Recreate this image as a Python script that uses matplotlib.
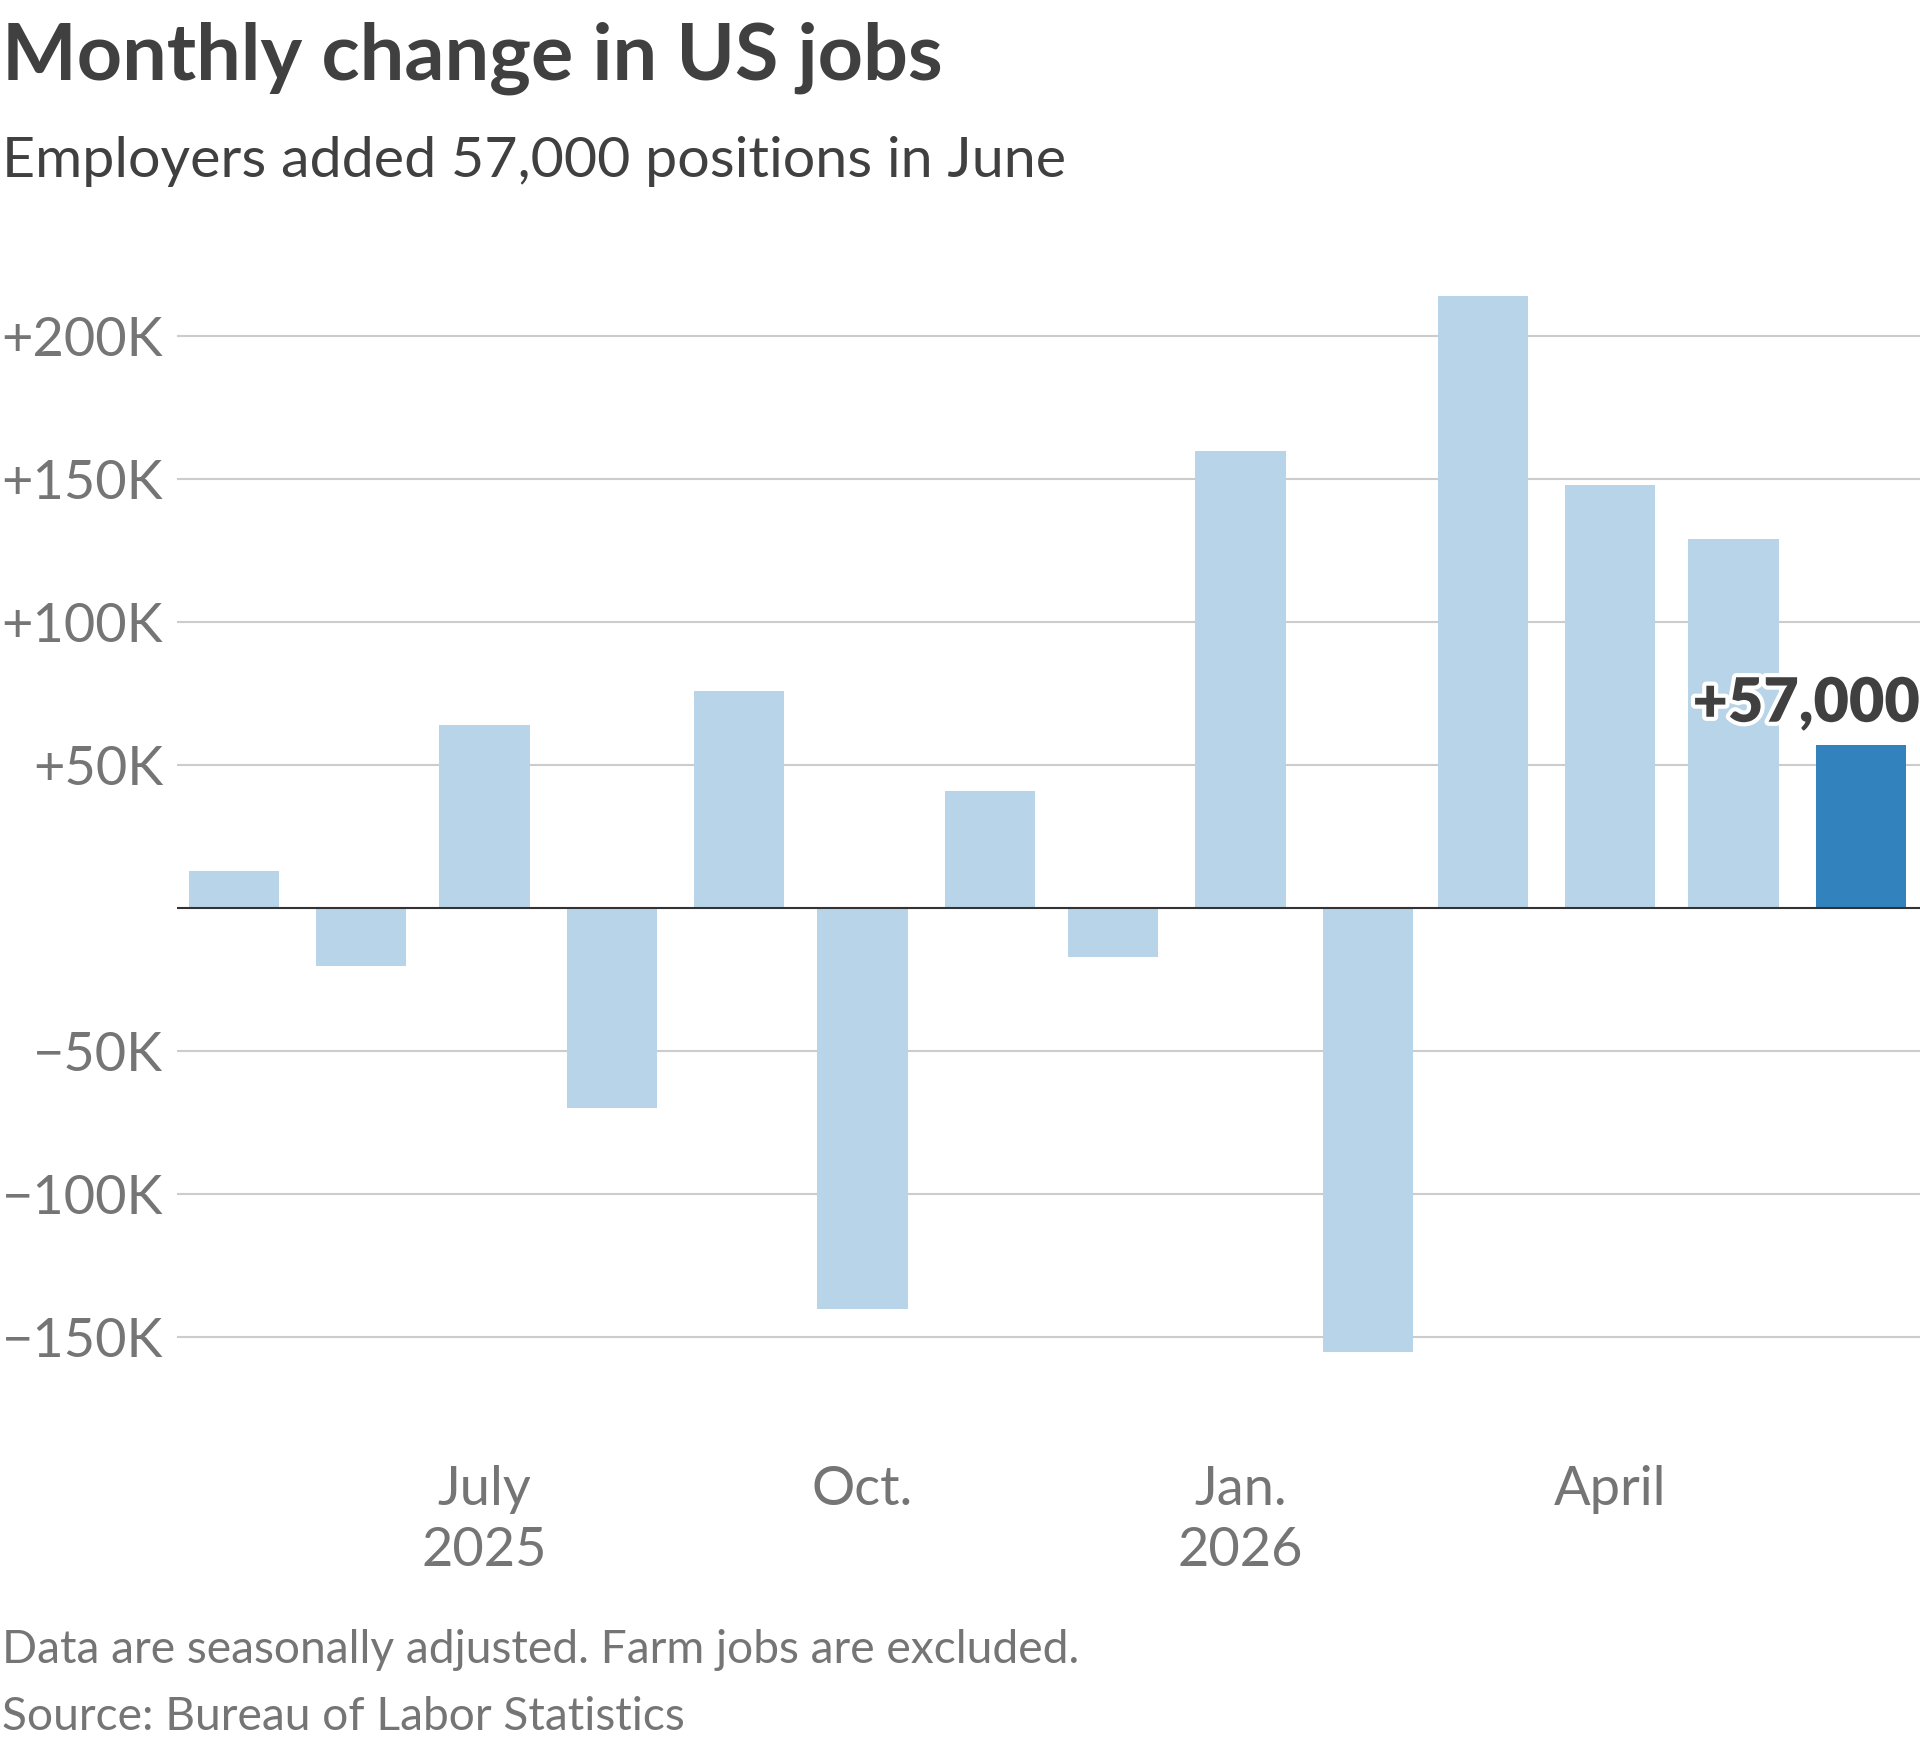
import numpy as np
import pandas as pd
import matplotlib
matplotlib.use("Agg")
import matplotlib.pyplot as plt
import matplotlib.patheffects as pe
import matplotlib.transforms as mtransforms

# data
months = pd.date_range("2025-05-01", "2026-06-01", freq="MS")
changes = [13000, -20000, 64000, -70000, 76000, -140000, 41000, -17000,
           160000, -155000, 214000, 148000, 129000, 57000]
yticks = [-150000, -100000, -50000, 50000, 100000, 150000, 200000]
ytick_labels = ["\u2212150K", "\u2212100K", "\u221250K", "+50K", "+100K", "+150K", "+200K"]
xtick_dates = pd.to_datetime(["2025-07-01", "2025-10-01", "2026-01-01", "2026-04-01"])
xtick_labels = ["July\n2025", "Oct.", "Jan.\n2026", "April"]

light_blue = "#b8d4e8"
dark_blue = "#3282bd"
text_dark = "#404040"
text_grey = "#757575"

plt.rcParams['font.family'] = ['Lato', 'DejaVu Sans']

W, H = 1920, 1747
fig = plt.figure(figsize=(W / 100, H / 100), dpi=100)

# axes placed in pixel coordinates
ax_left, ax_right, ax_top, ax_bottom = 177, 1920, 265, 1423
ax = fig.add_axes([ax_left / W, 1 - ax_bottom / H, (ax_right - ax_left) / W, (ax_bottom - ax_top) / H])

colors = [light_blue] * (len(changes) - 1) + [dark_blue]
ax.bar(months, changes, width=22, color=colors, zorder=3)

ax.set_ylim(-180000, 225000)
start = months[0] - pd.Timedelta(days=13.8)
ax.set_xlim(start, start + pd.Timedelta(days=424.2))

ax.set_yticks(yticks)
ax.set_yticklabels(ytick_labels, fontsize=39, color=text_grey)
ax.set_xticks(xtick_dates)
ax.set_xticklabels(xtick_labels, fontsize=39, color=text_grey, linespacing=1.3)
ax.tick_params(axis="y", length=0, pad=10)
ax.tick_params(axis="x", length=0, pad=30)

for s in ax.spines.values():
    s.set_visible(False)
ax.grid(axis="y", color="#cccccc", linewidth=1.5, zorder=0)
ax.axhline(0, color="#333333", linewidth=1.5, zorder=4)

# label for the latest month
trans = mtransforms.blended_transform_factory(ax.transAxes, ax.transData)
ax.annotate("+57,000", xy=(1.0, changes[-1]), xycoords=trans,
            xytext=(0, 17), textcoords="offset points",
            ha="right", va="baseline", fontsize=44, fontweight="heavy",
            color=text_dark, zorder=5,
            path_effects=[pe.withStroke(linewidth=6, foreground="white")])

# titles and notes
fig.text(0.001, 1 - 80 / H, "Monthly change in US jobs", fontsize=57, fontweight="bold",
         color=text_dark, ha="left", va="baseline")
fig.text(0.001, 1 - 177 / H, "Employers added 57,000 positions in June", fontsize=41.3,
         color=text_dark, ha="left", va="baseline")
fig.text(0.001, 1 - 1663 / H, "Data are seasonally adjusted. Farm jobs are excluded.", fontsize=33.2,
         color=text_grey, ha="left", va="baseline")
fig.text(0.001, 1 - 1730 / H, "Source: Bureau of Labor Statistics", fontsize=33.2,
         color=text_grey, ha="left", va="baseline")

fig.savefig("out.png", dpi=100)
